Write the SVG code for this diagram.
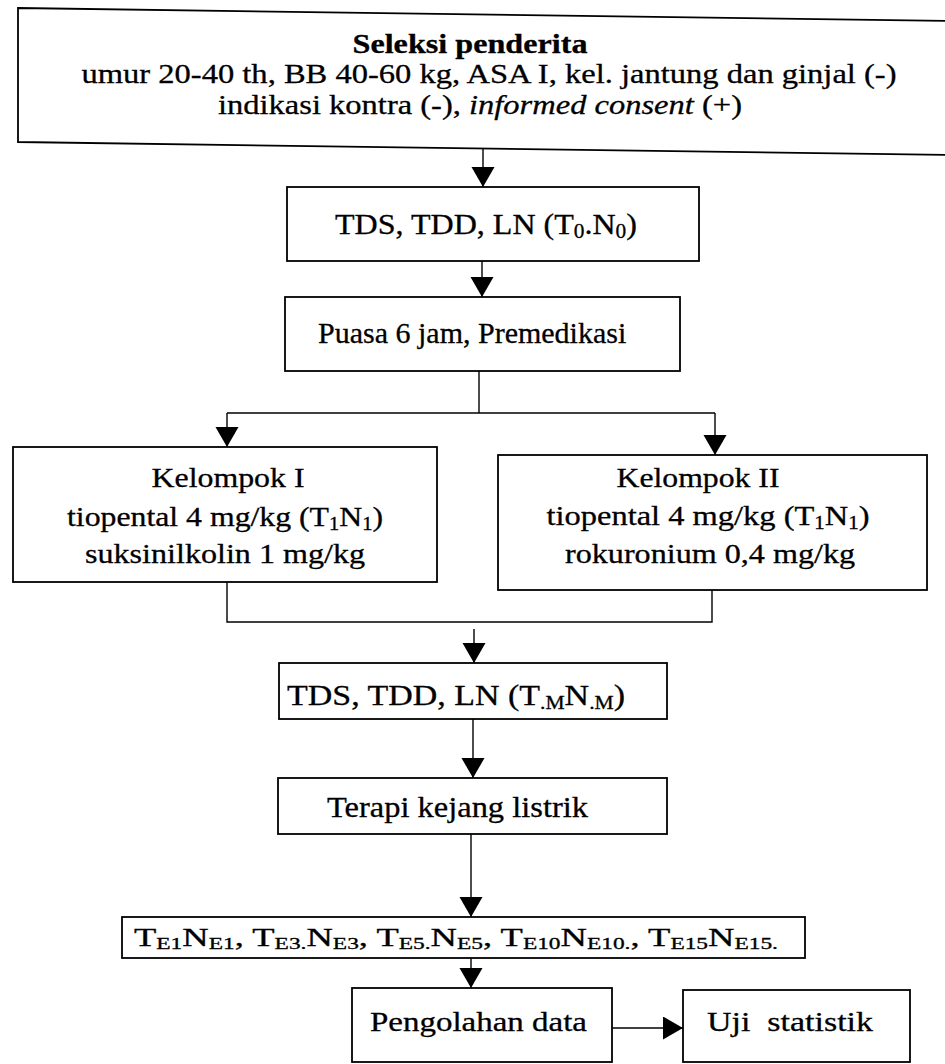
<svg xmlns="http://www.w3.org/2000/svg" width="945" height="1064" viewBox="0 0 945 1064">
<style>
.box{fill:#fff;stroke:#000;stroke-width:1.8}
.t{font-family:"Liberation Serif","Times New Roman",serif;fill:#000;stroke:#000;stroke-width:0.3}
.s30{font-size:30px}
.s27{font-size:28px}
.s24{font-size:25px}
.c{stroke:#000;stroke-width:1.4;fill:none}
</style>
<defs>
<marker id="ah" markerUnits="userSpaceOnUse" markerWidth="22" markerHeight="24" refX="20" refY="11.5" orient="auto">
<path d="M0,0 L20,11.5 L0,23 Z" fill="#000"/>
</marker>
</defs>
<rect width="945" height="1064" fill="#fff"/>
<g id="connectors">
<path class="c" d="M483,148 V187" marker-end="url(#ah)"/>
<path class="c" d="M482,261 V297" marker-end="url(#ah)"/>
<path class="c" d="M479,371 V413 M227,413 H715"/>
<path class="c" d="M227,413 V447" marker-end="url(#ah)"/>
<path class="c" d="M715,413 V455" marker-end="url(#ah)"/>
<path class="c" d="M227,582 V622 H712 V590"/>
<path class="c" d="M474,629 V663" marker-end="url(#ah)"/>
<path class="c" d="M473,719 V778" marker-end="url(#ah)"/>
<path class="c" d="M471,834 V917" marker-end="url(#ah)"/>
<path class="c" d="M471,958 V988" marker-end="url(#ah)"/>
<path class="c" d="M612,1028 H683" marker-end="url(#ah)"/>
</g>
<g id="seleksi">
<path class="box" d="M18,8 L952,21 L952,155 L18,142 Z"/>
<text class="t s27" x="470" y="53" text-anchor="middle" font-weight="bold" textLength="235" lengthAdjust="spacingAndGlyphs">Seleksi penderita</text>
<text class="t s27" x="489" y="83" text-anchor="middle" textLength="815" lengthAdjust="spacingAndGlyphs">umur 20-40 th, BB 40-60 kg, ASA I, kel. jantung dan ginjal (-)</text>
<text class="t s27" x="480" y="114" text-anchor="middle" textLength="524" lengthAdjust="spacingAndGlyphs">indikasi kontra (-), <tspan font-style="italic">informed consent</tspan> (+)</text>
</g>
<g id="tds0">
<rect class="box" x="287" y="187" width="412" height="74"/>
<text class="t s30" x="335" y="234" textLength="302" lengthAdjust="spacingAndGlyphs">TDS, TDD, LN (T<tspan font-size="20" dy="4">0</tspan><tspan dy="-4">.N</tspan><tspan font-size="20" dy="4">0</tspan><tspan dy="-4">)</tspan></text>
</g>
<g id="puasa">
<rect class="box" x="285" y="297" width="395" height="74"/>
<text class="t s30" x="318" y="343">Puasa 6 jam, Premedikasi</text>
</g>
<g id="kelompok1">
<rect class="box" x="13" y="447" width="424" height="135"/>
<text class="t s27" x="228" y="487" text-anchor="middle" textLength="153" lengthAdjust="spacingAndGlyphs">Kelompok I</text>
<text class="t s27" x="225" y="526" text-anchor="middle" textLength="316" lengthAdjust="spacingAndGlyphs">tiopental 4 mg/kg (T<tspan font-size="18" dy="4">1</tspan><tspan dy="-4">N</tspan><tspan font-size="18" dy="4">1</tspan><tspan dy="-4">)</tspan></text>
<text class="t s27" x="225" y="563" text-anchor="middle" textLength="280" lengthAdjust="spacingAndGlyphs">suksinilkolin 1 mg/kg</text>
</g>
<g id="kelompok2">
<rect class="box" x="498" y="455" width="429" height="135"/>
<text class="t s27" x="698" y="487" text-anchor="middle" textLength="163" lengthAdjust="spacingAndGlyphs">Kelompok II</text>
<text class="t s27" x="708" y="525" text-anchor="middle" textLength="323" lengthAdjust="spacingAndGlyphs">tiopental 4 mg/kg (T<tspan font-size="18" dy="4">1</tspan><tspan dy="-4">N</tspan><tspan font-size="18" dy="4">1</tspan><tspan dy="-4">)</tspan></text>
<text class="t s27" x="710" y="563" text-anchor="middle" textLength="290" lengthAdjust="spacingAndGlyphs">rokuronium 0,4 mg/kg</text>
</g>
<g id="tdsm">
<rect class="box" x="279" y="663" width="388" height="56"/>
<text class="t s30" x="287" y="705" textLength="338" lengthAdjust="spacingAndGlyphs">TDS, TDD, LN  (T<tspan font-size="19" dy="4">.M</tspan><tspan dy="-4">N</tspan><tspan font-size="19" dy="4">.M</tspan><tspan dy="-4">)</tspan></text>
</g>
<g id="terapi">
<rect class="box" x="278" y="778" width="389" height="56"/>
<text class="t s30" x="327" y="817" textLength="261" lengthAdjust="spacingAndGlyphs">Terapi kejang listrik</text>
</g>
<g id="te">
<rect class="box" x="122" y="917" width="683" height="41"/>
<text class="t s24" x="134" y="946" textLength="644" lengthAdjust="spacingAndGlyphs">T<tspan font-size="16" dy="3">E1</tspan><tspan dy="-3">N</tspan><tspan font-size="16" dy="3">E1</tspan><tspan dy="-3">, T</tspan><tspan font-size="16" dy="3">E3.</tspan><tspan dy="-3">N</tspan><tspan font-size="16" dy="3">E3</tspan><tspan dy="-3">, T</tspan><tspan font-size="16" dy="3">E5.</tspan><tspan dy="-3">N</tspan><tspan font-size="16" dy="3">E5</tspan><tspan dy="-3">, T</tspan><tspan font-size="16" dy="3">E10</tspan><tspan dy="-3">N</tspan><tspan font-size="16" dy="3">E10.</tspan><tspan dy="-3">, T</tspan><tspan font-size="16" dy="3">E15</tspan><tspan dy="-3">N</tspan><tspan font-size="16" dy="3">E15.</tspan></text>
</g>
<g id="pengolahan">
<rect class="box" x="352" y="988" width="260" height="74"/>
<text class="t s27" x="370" y="1031" textLength="217" lengthAdjust="spacingAndGlyphs">Pengolahan data</text>
</g>
<g id="uji">
<rect class="box" x="683" y="990" width="227" height="72"/>
<text class="t s27" x="707" y="1031" textLength="166" lengthAdjust="spacingAndGlyphs" xml:space="preserve">Uji  statistik</text>
</g>
</svg>
